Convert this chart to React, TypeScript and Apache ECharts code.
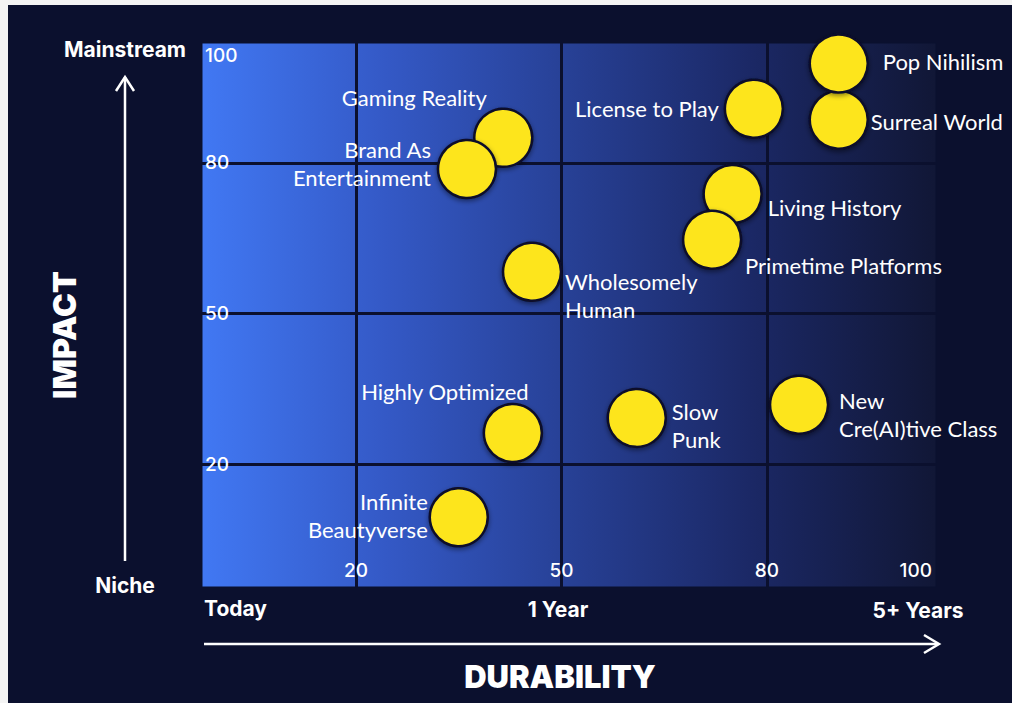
import React, { useEffect, useRef } from "react";
import * as echarts from "echarts";

// Trend names in drawing order (later points sit on top of earlier ones)
const trendNames = [
  "Surreal World",
  "Pop Nihilism",
  "License to Play",
  "Gaming Reality",
  "Brand As\nEntertainment",
  "Living History",
  "Primetime Platforms",
  "Wholesomely\nHuman",
  "Highly Optimized",
  "Slow\nPunk",
  "New\nCre(AI)tive Class",
  "Infinite\nBeautyverse",
];

// Durability (x) and impact (y) scores for each trend
const durabilityScores = [90.5, 90.5, 78.1, 41.5, 36.2, 75.0, 72.0, 45.7, 42.9, 61.0, 84.7, 35.0];
const impactScores = [88.6, 99.8, 90.8, 85.0, 78.8, 73.8, 64.7, 58.3, 26.2, 29.2, 31.8, 9.4];

// Tick marks shown on both axes and the quadrant lines drawn through the plot
const durabilityTicks = [20, 50, 80, 100];
const impactTicks = [20, 50, 80, 100];
const gridValues = [20, 50, 80];

// Label placement for each bubble: alignment and offset from the bubble centre
const labelPlacement: { align: "left" | "right" | "center"; offset: [number, number] }[] = [
  { align: "left", offset: [32, 2] },
  { align: "left", offset: [44, -2] },
  { align: "right", offset: [-35, 0] },
  { align: "center", offset: [-89, -40] },
  { align: "right", offset: [-36, -5] },
  { align: "left", offset: [35, 13] },
  { align: "left", offset: [33, 26] },
  { align: "left", offset: [33, 24] },
  { align: "center", offset: [-68, -41] },
  { align: "left", offset: [35, 8] },
  { align: "left", offset: [40, 10] },
  { align: "right", offset: [-31, -2] },
];

const BG = "#0b102e";
const HEAD_FONT = "Inter, 'DejaVu Sans', sans-serif";
const LABEL_FONT = "Lato, 'Open Sans', sans-serif";

export default function App() {
  const ref = useRef<HTMLDivElement>(null);

  useEffect(() => {
    document.body.style.background = "#f4f4f4";
    document.body.style.overflow = "hidden";
    if (!ref.current) return;
    const chart = echarts.init(ref.current, undefined, { renderer: "svg" });

    const tickText = {
      color: "#ffffff",
      fontFamily: HEAD_FONT,
      fontSize: 19,
      fontWeight: 500,
    };

    const points = trendNames.map((name, i) => ({
      name,
      value: [durabilityScores[i], impactScores[i]],
      label: {
        show: true,
        position: "inside",
        align: labelPlacement[i].align,
        verticalAlign: "middle",
        offset: labelPlacement[i].offset,
        formatter: name,
        color: "#ffffff",
        fontFamily: LABEL_FONT,
        fontSize: 22,
        lineHeight: 28,
      },
    }));

    const caption = (text: string, x: number, y: number, align = "center") => ({
      type: "text",
      x,
      y,
      z: 10,
      style: {
        text,
        fill: "#ffffff",
        font: `700 21px ${HEAD_FONT}`,
        align,
        verticalAlign: "middle",
      },
    });

    chart.setOption({
      animation: false,
      backgroundColor: BG,
      grid: {
        left: 194,
        top: 38,
        right: 76,
        bottom: 116,
        show: true,
        borderWidth: 1,
        borderColor: BG,
        backgroundColor: new echarts.graphic.LinearGradient(0, 0, 1, 0, [
          { offset: 0, color: "#4178f3" },
          { offset: 0.25, color: "#3459c6" },
          { offset: 0.5, color: "#274095" },
          { offset: 0.75, color: "#1b2865" },
          { offset: 1, color: "#111736" },
        ]),
      },
      xAxis: {
        type: "value",
        min: -2.5,
        max: 104.7,
        z: 5,
        axisLine: { show: false },
        axisTick: { show: false },
        splitLine: { show: false },
        axisLabel: {
          inside: true,
          margin: 7,
          customValues: durabilityTicks,
          ...tickText,
          formatter: (v: number) => (v === 100 ? `{edge|${v}}` : `${v}`),
          rich: { edge: { ...tickText, padding: [0, 0, 0, 24] } },
        },
      },
      yAxis: {
        type: "value",
        min: -4.5,
        max: 103.9,
        z: 5,
        axisLine: { show: false },
        axisTick: { show: false },
        splitLine: { show: false },
        axisLabel: {
          inside: true,
          margin: 3,
          customValues: impactTicks,
          ...tickText,
          formatter: (v: number) => (v === 100 ? `{edge|${v}}` : `${v}`),
          rich: { edge: { ...tickText, padding: [0, 0, 14, 0] } },
        },
      },
      series: [
        {
          type: "scatter",
          z: 1,
          data: [],
          silent: true,
          markLine: {
            z: 1,
            silent: true,
            symbol: "none",
            label: { show: false },
            lineStyle: { color: BG, width: 3, type: "solid" },
            data: [
              ...gridValues.map((v) => ({ xAxis: v })),
              ...gridValues.map((v) => ({ yAxis: v })),
            ],
          },
        },
        {
          type: "scatter",
          z: 3,
          symbolSize: 58,
          itemStyle: {
            color: "#fde51f",
            borderColor: "#0b0f2a",
            borderWidth: 2.5,
            opacity: 1,
            shadowBlur: 5,
            shadowOffsetY: 2,
            shadowColor: "rgba(0,0,0,0.45)",
          },
          data: points,
        },
      ],
      graphic: [
        // vertical impact arrow
        {
          type: "line",
          shape: { x1: 117, y1: 556, x2: 117, y2: 72 },
          style: { stroke: "#ffffff", lineWidth: 2.5 },
        },
        {
          type: "polyline",
          shape: { points: [[108, 86], [117, 72], [126, 86]] },
          style: { stroke: "#ffffff", lineWidth: 2.5, fill: "none" },
        },
        // horizontal durability arrow
        {
          type: "line",
          shape: { x1: 196, y1: 639, x2: 930, y2: 639 },
          style: { stroke: "#ffffff", lineWidth: 2.5 },
        },
        {
          type: "polyline",
          shape: { points: [[916, 630], [931, 639], [916, 648]] },
          style: { stroke: "#ffffff", lineWidth: 2.5, fill: "none" },
        },
        caption("Mainstream", 117, 44),
        caption("Niche", 117, 580),
        caption("Today", 196, 603, "left"),
        caption("1 Year", 550, 604),
        caption("5+ Years", 910, 605),
        {
          type: "text",
          x: 56,
          y: 330,
          rotation: Math.PI / 2,
          style: {
            text: "IMPACT",
            fill: "#ffffff",
            font: `900 32px ${HEAD_FONT}`,
            align: "center",
            verticalAlign: "middle",
          },
        },
        {
          type: "text",
          x: 552,
          y: 671,
          style: {
            text: "DURABILITY",
            fill: "#ffffff",
            font: `900 31px ${HEAD_FONT}`,
            align: "center",
            verticalAlign: "middle",
          },
        },
      ],
    });

    return () => chart.dispose();
  }, []);

  return (
    <div
      ref={ref}
      style={{ position: "fixed", left: 8, top: 5, width: 1004, height: 698 }}
    />
  );
}
